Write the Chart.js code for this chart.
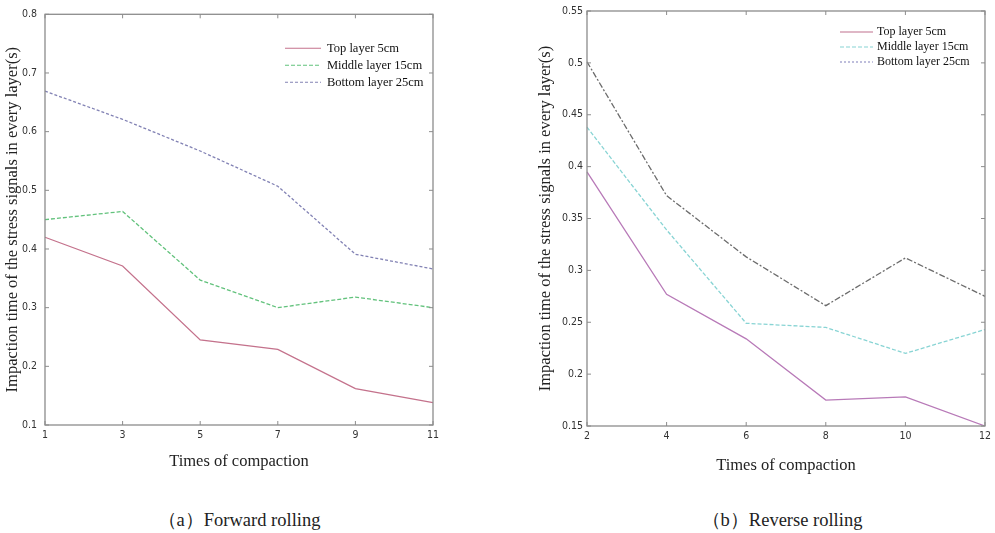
<!DOCTYPE html>
<html>
<head>
<meta charset="utf-8">
<script src="https://cdn.jsdelivr.net/npm/chart.js@4.4.1/dist/chart.umd.min.js"></script>
<style>
  body { margin: 0; background: #fff; width: 995px; height: 533px; position: relative; overflow: hidden; }
  canvas { position: absolute; top: 0; }
  #forwardChart { left: 0; }
  #reverseChart { left: 520px; }
  .caption { position: absolute; top: 509px; width: 300px; text-align: center; line-height: 22px;
    font-family: "Liberation Serif", "Times New Roman", serif; font-size: 18.5px; color: #222; }
</style>
</head>
<body>
<canvas id="forwardChart" width="470" height="480"></canvas>
<canvas id="reverseChart" width="475" height="480"></canvas>
<div class="caption" style="left:89px">（a）Forward rolling</div>
<div class="caption" style="left:632px">（b）Reverse rolling</div>

<script>
// data
const layerNames = ['Top layer 5cm', 'Middle layer 15cm', 'Bottom layer 25cm'];

const forwardTimes = ['1', '3', '5', '7', '9', '11'];
const forwardTop = [0.420, 0.371, 0.245, 0.229, 0.162, 0.138];
const forwardMiddle = [0.450, 0.464, 0.347, 0.300, 0.318, 0.300];
const forwardBottom = [0.669, 0.621, 0.567, 0.507, 0.391, 0.366];
const forwardYTicks = [0.1, 0.2, 0.3, 0.4, 0.5, 0.6, 0.7, 0.8];

const reverseTimes = ['2', '4', '6', '8', '10', '12'];
const reverseTop = [0.395, 0.277, 0.234, 0.175, 0.178, 0.150];
const reverseMiddle = [0.438, 0.339, 0.249, 0.245, 0.220, 0.243];
const reverseBottom = [0.501, 0.372, 0.313, 0.266, 0.312, 0.275];
const reverseYTicks = [0.15, 0.2, 0.25, 0.3, 0.35, 0.4, 0.45, 0.5, 0.55];

const yTitle = 'Impaction time of the stress signals in every layer(s)';
const xTitle = 'Times of compaction';
const tickFont = { family: '"Liberation Sans Narrow", "DejaVu Sans Condensed", Arial', size: 10.5 };
const serif = '"Liberation Serif", "Times New Roman", serif';

// matlab style box with inward ticks on all four sides
const framePlugin = {
    id: 'frame',
    afterDatasetsDraw(chart) {
        const { ctx, chartArea: a, scales: { x, y } } = chart;
        ctx.save();
        ctx.strokeStyle = '#8c8c8c';
        ctx.lineWidth = 1.3;
        ctx.strokeRect(a.left, a.top, a.right - a.left, a.bottom - a.top);
        ctx.lineWidth = 1;
        ctx.beginPath();
        x.ticks.forEach((t, i) => {
            const px = x.getPixelForTick(i);
            ctx.moveTo(px, a.bottom); ctx.lineTo(px, a.bottom - 4);
            ctx.moveTo(px, a.top); ctx.lineTo(px, a.top + 4);
        });
        y.ticks.forEach(t => {
            const py = y.getPixelForValue(t.value);
            ctx.moveTo(a.left, py); ctx.lineTo(a.left + 4, py);
            ctx.moveTo(a.right, py); ctx.lineTo(a.right - 4, py);
        });
        ctx.stroke();
        ctx.restore();
    }
};

// legend drawn inside the plot, top right
const innerLegend = {
    id: 'innerLegend',
    afterDraw(chart, args, opts) {
        const { ctx, chartArea: a } = chart;
        ctx.save();
        ctx.font = opts.fontSize + 'px ' + serif;
        ctx.textBaseline = 'middle';
        ctx.fillStyle = '#111';
        chart.data.datasets.forEach((ds, i) => {
            const y0 = a.top + opts.top + i * opts.rowHeight;
            const x0 = a.left + opts.left;
            ctx.strokeStyle = ds.legendColor || ds.borderColor;
            ctx.lineWidth = 1.1;
            ctx.setLineDash(ds.legendDash || ds.borderDash || []);
            ctx.beginPath();
            ctx.moveTo(x0, y0);
            ctx.lineTo(x0 + opts.lineLength, y0);
            ctx.stroke();
            ctx.fillText(ds.label, x0 + opts.lineLength + opts.gap, y0);
        });
        ctx.restore();
    }
};

function makeChart(id, times, series, yTicks, look) {
    const ctx = document.getElementById(id).getContext('2d');
    return new Chart(ctx, {
        type: 'line',
        data: {
            labels: times,
            datasets: series.map((values, i) => Object.assign({
                label: layerNames[i],
                data: values,
                borderWidth: 1.3,
                pointRadius: 0,
                tension: 0,
                fill: false
            }, look.lines[i]))
        },
        options: {
            responsive: false,
            animation: false,
            layout: { padding: look.padding },
            plugins: {
                legend: { display: false },
                tooltip: { enabled: false },
                innerLegend: look.legend
            },
            scales: {
                x: {
                    type: 'category',
                    offset: false,
                    afterFit: ax => { ax.height = look.xHeight; },
                    grid: { display: false, drawTicks: false },
                    border: { display: false },
                    ticks: { font: tickFont, color: '#333', padding: 4, maxRotation: 0, autoSkip: false },
                    title: { display: true, text: xTitle, color: '#222',
                        font: { family: serif, size: 16.5 }, padding: { top: 0, bottom: look.xTitlePad } }
                },
                y: {
                    min: yTicks[0],
                    max: yTicks[yTicks.length - 1],
                    afterBuildTicks: ax => { ax.ticks = yTicks.map(v => ({ value: v })); },
                    afterFit: ax => { ax.width = look.yWidth; },
                    grid: { display: false, drawTicks: false },
                    border: { display: false },
                    ticks: { font: tickFont, color: '#333', padding: look.yTickPad,
                        callback: v => String(+v.toFixed(2)) },
                    title: { display: true, text: yTitle, color: '#222',
                        font: { family: serif, size: 16.5 }, padding: { top: look.yTitlePad, bottom: 0 } }
                }
            }
        },
        plugins: [framePlugin, innerLegend]
    });
}

makeChart('forwardChart', forwardTimes, [forwardTop, forwardMiddle, forwardBottom], forwardYTicks, {
    padding: { top: 11, right: 37, left: 0, bottom: 0 },
    xHeight: 55, xTitlePad: 8, yWidth: 45, yTickPad: 8, yTitlePad: 3,
    legend: { left: 240, top: 34, rowHeight: 17, lineLength: 36, gap: 6, fontSize: 12.5 },
    lines: [
        { borderColor: '#c4728c' },
        { borderColor: '#62c27c', borderDash: [4, 2] },
        { borderColor: '#8282b4', borderDash: [3, 2] }
    ]
});

makeChart('reverseChart', reverseTimes, [reverseTop, reverseMiddle, reverseBottom], reverseYTicks, {
    padding: { top: 11, right: 5, left: 0, bottom: 0 },
    xHeight: 54, xTitlePad: 4, yWidth: 67, yTickPad: 4, yTitlePad: 16,
    legend: { left: 253, top: 21, rowHeight: 15, lineLength: 33, gap: 4, fontSize: 12 },
    lines: [
        { borderColor: '#b87ab8', legendColor: '#c0708e' },
        { borderColor: '#88d4d4', borderDash: [4, 2] },
        { borderColor: '#6c6c6c', borderDash: [6, 2, 2, 2], legendColor: '#8a8ac0', legendDash: [2, 2] }
    ]
});
</script>
</body>
</html>
